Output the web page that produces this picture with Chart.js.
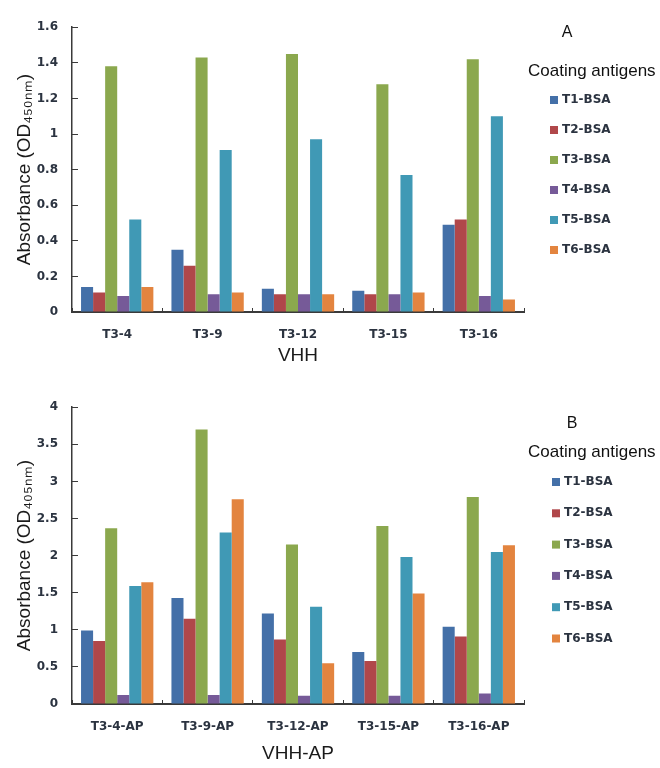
<!DOCTYPE html>
<html>
<head>
<meta charset="utf-8">
<script src="https://cdn.jsdelivr.net/npm/chart.js@4"></script>
<style>
  body { margin: 0; background: #fff; }
  .box { position: absolute; left: 0; }
</style>
</head>
<body>
<div class="box" style="top:0"><canvas id="chartA" width="660" height="380"></canvas></div>
<div class="box" style="top:380px"><canvas id="chartB" width="660" height="388"></canvas></div>
<script>
// --- data ---
const seriesNames = ["T1-BSA", "T2-BSA", "T3-BSA", "T4-BSA", "T5-BSA", "T6-BSA"];
const seriesColors = ["#4470A8", "#B0474A", "#8BA84E", "#765A98", "#4099B5", "#E3843F"];

// panel A: VHH, OD450nm
const vhhNames = ["T3-4", "T3-9", "T3-12", "T3-15", "T3-16"];
const t1A = [0.14, 0.35, 0.13, 0.12, 0.49];
const t2A = [0.11, 0.26, 0.10, 0.10, 0.52];
const t3A = [1.38, 1.43, 1.45, 1.28, 1.42];
const t4A = [0.09, 0.10, 0.10, 0.10, 0.09];
const t5A = [0.52, 0.91, 0.97, 0.77, 1.10];
const t6A = [0.14, 0.11, 0.10, 0.11, 0.07];
const yTicksA = [0, 0.2, 0.4, 0.6, 0.8, 1, 1.2, 1.4, 1.6];

// panel B: VHH-AP, OD405nm
const vhhApNames = ["T3-4-AP", "T3-9-AP", "T3-12-AP", "T3-15-AP", "T3-16-AP"];
const t1B = [0.99, 1.43, 1.22, 0.70, 1.04];
const t2B = [0.85, 1.15, 0.87, 0.58, 0.91];
const t3B = [2.37, 3.70, 2.15, 2.40, 2.79];
const t4B = [0.12, 0.12, 0.11, 0.11, 0.14];
const t5B = [1.59, 2.31, 1.31, 1.98, 2.05];
const t6B = [1.64, 2.76, 0.55, 1.49, 2.14];
const yTicksB = [0, 0.5, 1, 1.5, 2, 2.5, 3, 3.5, 4];

const tickFont = { family: "DejaVu Sans", size: 12, weight: "bold" };
const tickColor = "#2b3340";
const axisColor = "#3a3a3a";

// legend drawn at the right side of each panel
const sideLegend = {
    id: "sideLegend",
    afterDraw(chart, args, opts) {
        const ctx = chart.ctx;
        ctx.save();
        ctx.textBaseline = "middle";
        ctx.fillStyle = "#111";
        ctx.textAlign = "center";
        ctx.font = '16px "Liberation Sans"';
        ctx.fillText(opts.letter, opts.letterX, opts.letterY);
        ctx.textAlign = "left";
        ctx.font = '17px "Liberation Sans"';
        ctx.fillText(opts.title, opts.titleX, opts.titleY);
        ctx.font = 'bold 12px "DejaVu Sans"';
        chart.data.datasets.forEach((ds, i) => {
            const y = opts.firstY + i * opts.step;
            ctx.fillStyle = ds.backgroundColor;
            ctx.fillRect(opts.boxX, y - 4, 8, 8);
            ctx.fillStyle = tickColor;
            ctx.fillText(ds.label, opts.boxX + 12, y);
        });
        ctx.restore();
    }
};

function makeDatasets(values) {
    return values.map((v, i) => ({
        label: seriesNames[i],
        data: v,
        backgroundColor: seriesColors[i],
        borderWidth: 0,
        categoryPercentage: 0.8,
        barPercentage: 1.0
    }));
}

function drawPanel(id, labels, values, yTicks, yMax, yTitle, xTitle, pad, xHeight, xTitlePad, legendOpts) {
    const ctx = document.getElementById(id).getContext("2d");
    return new Chart(ctx, {
        type: "bar",
        data: { labels: labels, datasets: makeDatasets(values) },
        plugins: [sideLegend],
        options: {
            responsive: false,
            animation: false,
            devicePixelRatio: 1,
            layout: { padding: pad },
            plugins: {
                legend: { display: false },
                tooltip: { enabled: false },
                sideLegend: legendOpts
            },
            scales: {
                x: {
                    grid: { offset: true, drawOnChartArea: false, tickLength: -4, color: axisColor, lineWidth: 1 },
                    border: { color: axisColor, width: 2 },
                    ticks: { font: tickFont, color: tickColor, padding: 20, maxRotation: 0 },
                    title: {
                        display: true, text: xTitle, color: "#1a1a1a",
                        font: { family: "Liberation Sans", size: 19 },
                        padding: { top: 0, bottom: xTitlePad }
                    },
                    afterFit: (s) => { s.height = xHeight; }
                },
                y: {
                    min: 0,
                    max: yMax,
                    afterBuildTicks: (s) => { s.ticks = yTicks.map(v => ({ value: v })); },
                    grid: { drawOnChartArea: false, tickLength: -6, color: axisColor, lineWidth: 1 },
                    border: { color: axisColor, width: 1.5 },
                    ticks: { font: tickFont, color: tickColor, padding: 20, callback: (v) => String(v) },
                    title: {
                        display: true, text: yTitle, color: "#1a1a1a",
                        font: { family: "Liberation Sans", size: 19 },
                        padding: { top: 13, bottom: 0 }
                    },
                    afterFit: (s) => { s.width = 72; }
                }
            }
        }
    });
}

drawPanel("chartA", vhhNames, [t1A, t2A, t3A, t4A, t5A, t6A], yTicksA, 1.6,
    "Absorbance (OD₄₅₀ₙₘ)", "VHH",
    { top: 13, right: 136, bottom: 0, left: 0 }, 68, 13,
    { letter: "A", letterX: 567, letterY: 33, title: "Coating antigens", titleX: 528, titleY: 71,
      boxX: 550, firstY: 100, step: 30 });

drawPanel("chartB", vhhApNames, [t1B, t2B, t3B, t4B, t5B, t6B], yTicksB, 4,
    "Absorbance (OD₄₀₅ₙₘ)", "VHH-AP",
    { top: 10, right: 136, bottom: 0, left: 0 }, 64, 3,
    { letter: "B", letterX: 572, letterY: 44, title: "Coating antigens", titleX: 528, titleY: 72,
      boxX: 552, firstY: 102, step: 31.3 });
</script>
</body>
</html>
